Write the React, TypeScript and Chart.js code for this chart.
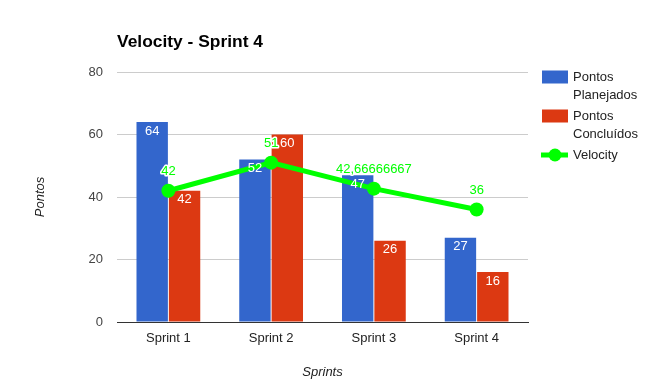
import React, { useEffect, useRef } from "react";
import { Chart, registerables } from "chart.js";

Chart.register(...registerables);

const TITLE = "Velocity - Sprint 4";
const X_TITLE = "Sprints";
const Y_TITLE = "Pontos";
const categories = ["Sprint 1", "Sprint 2", "Sprint 3", "Sprint 4"];
const planejados = [64, 52, 47, 27];
const concluidos = [42, 60, 26, 16];
const velocity = [42, 51, 42.66666667, 36];
const velocityLabels = ["42", "51", "42,66666667", "36"];
const legendLines = [["Pontos", "Planejados"], ["Pontos", "Concluídos"], ["Velocity"]];
const yTicks = [0, 20, 40, 60, 80];

const FONT = "'Liberation Sans', Arial, sans-serif";

const drawPlugin = {
  id: "customDraw",
  afterDatasetsDraw(chart: any) {
    const ctx = chart.ctx;
    ctx.save();
    ctx.font = `13px ${FONT}`;
    ctx.textAlign = "center";
    ctx.textBaseline = "middle";
    chart.data.datasets.forEach((ds: any, di: number) => {
      if (ds.type !== "bar") return;
      const meta = chart.getDatasetMeta(di);
      meta.data.forEach((el: any, i: number) => {
        ctx.fillStyle = "#ffffff";
        ctx.fillText(String(ds.data[i]), el.x, el.y + 9);
      });
    });
    chart.data.datasets.forEach((ds: any, di: number) => {
      if (ds.type !== "line") return;
      const meta = chart.getDatasetMeta(di);
      meta.data.forEach((el: any, i: number) => {
        const t = velocityLabels[i];
        ctx.lineWidth = 3;
        ctx.strokeStyle = "#ffffff";
        ctx.lineJoin = "round";
        ctx.strokeText(t, el.x, el.y - 19);
        ctx.fillStyle = "#00ff00";
        ctx.fillText(t, el.x, el.y - 19);
      });
    });
    ctx.restore();
  },
  afterDraw(chart: any) {
    const ctx = chart.ctx;
    const area = chart.chartArea;
    ctx.save();
    ctx.font = `bold 17.4px ${FONT}`;
    ctx.fillStyle = "#000";
    ctx.textAlign = "left";
    ctx.textBaseline = "middle";
    ctx.fillText(TITLE, area.left, 42);
    ctx.font = `italic 13px ${FONT}`;
    ctx.fillStyle = "#222";
    ctx.textAlign = "center";
    ctx.fillText(X_TITLE, (area.left + area.right) / 2, 372);
    ctx.save();
    ctx.translate(40, (area.top + area.bottom) / 2);
    ctx.rotate(-Math.PI / 2);
    ctx.fillText(Y_TITLE, 0, 0);
    ctx.restore();
    ctx.font = `13px ${FONT}`;
    ctx.textAlign = "left";
    let y = 77;
    chart.data.datasets.forEach((ds: any, di: number) => {
      const lines = legendLines[di];
      if (ds.type === "bar") {
        ctx.fillStyle = ds.backgroundColor;
        ctx.fillRect(542, y - 6.5, 26, 13);
      } else {
        ctx.strokeStyle = ds.borderColor;
        ctx.lineWidth = 5;
        ctx.beginPath();
        ctx.moveTo(541, y);
        ctx.lineTo(568, y);
        ctx.stroke();
        ctx.fillStyle = ds.borderColor;
        ctx.beginPath();
        ctx.arc(555, y, 6.5, 0, Math.PI * 2);
        ctx.fill();
      }
      ctx.fillStyle = "#222";
      lines.forEach((l: string, li: number) => {
        ctx.fillText(l, 573, y + li * 18);
      });
      y += lines.length * 18 + 3;
    });
    ctx.restore();
  },
};

export default function App() {
  const ref = useRef<HTMLCanvasElement>(null);
  useEffect(() => {
    document.body.style.margin = "0";
    const chart = new Chart(ref.current as HTMLCanvasElement, {
      type: "bar",
      data: {
        labels: categories,
        datasets: [
          {
            type: "bar",
            label: "Pontos Planejados",
            data: planejados,
            backgroundColor: "#3366cc",
            order: 1,
            categoryPercentage: 0.63,
            barPercentage: 0.97,
          },
          {
            type: "bar",
            label: "Pontos Concluídos",
            data: concluidos,
            backgroundColor: "#dc3912",
            order: 2,
            categoryPercentage: 0.63,
            barPercentage: 0.97,
          },
          {
            type: "line",
            label: "Velocity",
            data: velocity,
            borderColor: "#00ff00",
            backgroundColor: "#00ff00",
            borderWidth: 5,
            pointRadius: 7,
            pointHoverRadius: 7,
            pointBorderWidth: 0,
            tension: 0,
            order: 0,
          },
        ] as any,
      },
      options: {
        animation: false,
        responsive: false,
        maintainAspectRatio: false,
        layout: { padding: { left: 0, right: 124, top: 72, bottom: 0 } },
        plugins: { legend: { display: false }, title: { display: false }, tooltip: { enabled: false } },
        scales: {
          x: {
            grid: { display: false, drawTicks: false },
            border: { display: true, color: "#333", width: 1 },
            ticks: { color: "#222", font: { family: FONT, size: 13 }, padding: 9 },
            afterFit: (s: any) => { s.height = 70; },
          },
          y: {
            min: 0,
            max: 80,
            afterBuildTicks: (s: any) => { s.ticks = yTicks.map((v) => ({ value: v })); },
            grid: { color: "#cccccc", drawTicks: false },
            border: { display: false },
            ticks: { color: "#444", font: { family: FONT, size: 13 }, padding: 14 },
            afterFit: (s: any) => { s.width = 117; },
          },
        },
      },
      plugins: [drawPlugin],
    });
    return () => chart.destroy();
  }, []);
  return (
    <div style={{ width: 652, height: 392 }}>
      <canvas ref={ref} width={652} height={392} style={{ display: "block" }} />
    </div>
  );
}
